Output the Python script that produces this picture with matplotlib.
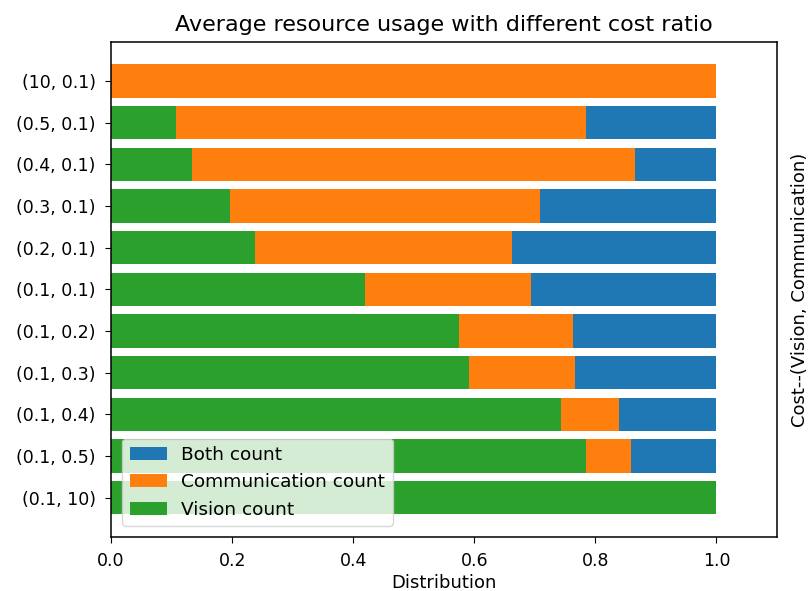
import numpy as np
import matplotlib
matplotlib.use('Agg')
import matplotlib.pyplot as plt

# cost pairs (vision, communication), bottom to top
labels = ['(0.1, 10)', '(0.1, 0.5)', '(0.1, 0.4)', '(0.1, 0.3)', '(0.1, 0.2)',
          '(0.1, 0.1)', '(0.2, 0.1)', '(0.3, 0.1)', '(0.4, 0.1)', '(0.5, 0.1)',
          '(10, 0.1)']

# fraction of steps using each resource
vision = [1.0, 0.785, 0.743, 0.592, 0.574, 0.419, 0.238, 0.196, 0.134, 0.108, 0.0]
communication = [0.0, 0.074, 0.096, 0.175, 0.189, 0.275, 0.425, 0.513, 0.731, 0.677, 1.0]
both = [0.0, 0.141, 0.161, 0.233, 0.237, 0.306, 0.337, 0.291, 0.135, 0.215, 0.0]

vision = np.array(vision)
communication = np.array(communication)
both = np.array(both)
y = np.arange(len(labels))

plt.rcParams['axes.linewidth'] = 1.1
plt.rcParams['xtick.major.size'] = 4.5
plt.rcParams['ytick.major.size'] = 4.5
plt.rcParams['xtick.major.pad'] = 6.5
plt.rcParams['ytick.major.pad'] = 6.5

fig, ax = plt.subplots(figsize=(8.11, 5.91), dpi=100)
ax.barh(y, both, left=vision + communication, color='tab:blue', label='Both count')
ax.barh(y, communication, left=vision, color='tab:orange', label='Communication count')
ax.barh(y, vision, color='tab:green', label='Vision count')

ax.set_yticks(y)
ax.set_yticklabels(labels, fontsize=12.5)
ax.tick_params(axis='x', labelsize=12.5)
ax.set_xlim(0, 1.1)
ax.set_xlabel('Distribution', fontsize=13, labelpad=3)
ax.yaxis.set_label_position('right')
ax.set_ylabel('Cost--(Vision, Communication)', fontsize=13, labelpad=10)
ax.set_title('Average resource usage with different cost ratio', fontsize=16, pad=8)
ax.legend(loc='lower left', fontsize=13.3, borderaxespad=0.6)

plt.subplots_adjust(left=0.137, right=0.958, top=0.929, bottom=0.0914)
plt.savefig('out.png')
